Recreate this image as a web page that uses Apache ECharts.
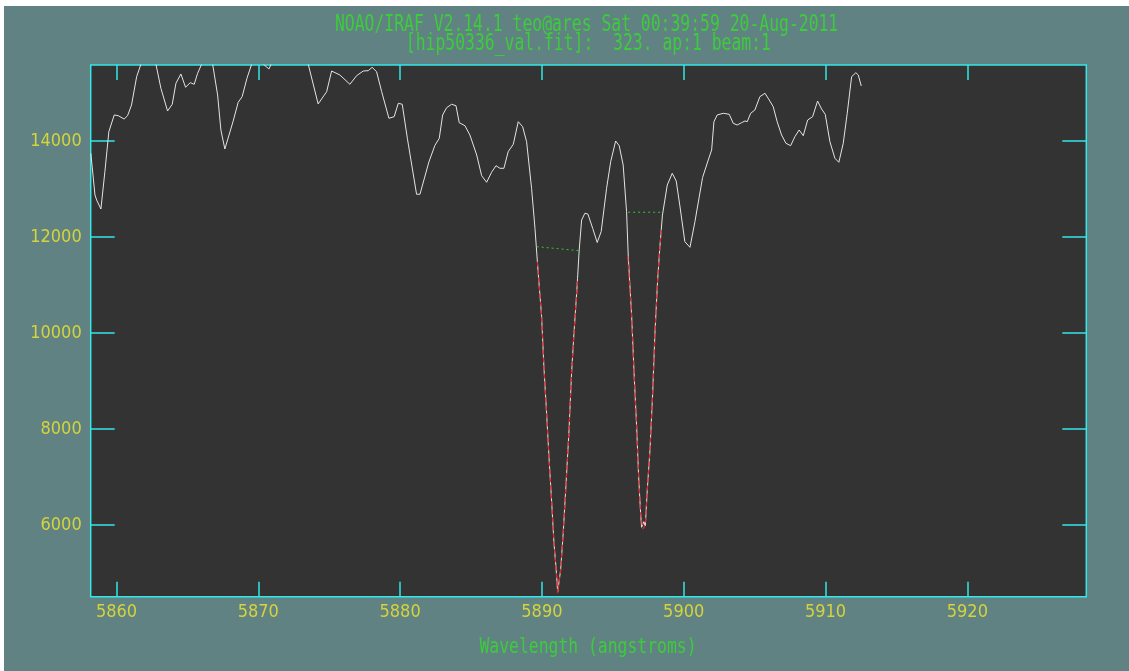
<!DOCTYPE html>
<html>
<head>
<meta charset="utf-8">
<script src="https://cdn.jsdelivr.net/npm/echarts@6/dist/echarts.min.js"></script>
<style>
  html, body { margin: 0; padding: 0; background: #ffffff; width: 1129px; height: 671px; overflow: hidden; }
  #chart { position: absolute; left: 4px; top: 6px; width: 1125px; height: 665px; }
</style>
</head>
<body>
<div id="chart"></div>
<script>
// ---------- data ----------
const titleLine1 = 'NOAO/IRAF V2.14.1 teo@ares Sat 00:39:59 20-Aug-2011';
const titleLine2 = '[hip50336_val.fit]:  323. ap:1 beam:1';
const xAxisName = 'Wavelength (angstroms)';

const xTicks = [5860, 5870, 5880, 5890, 5900, 5910, 5920];
const yTicks = [6000, 8000, 10000, 12000, 14000];

// spectrum (wavelength in angstroms, flux); values above the frame are clipped estimates
const wavelength = [
  5858.19, 5858.48, 5858.60, 5858.90, 5859.18, 5859.46, 5859.84, 5860.12, 5860.54, 5860.78,
  5861.06, 5861.42, 5861.72, 5862.21, 5862.78, 5863.13, 5863.60, 5863.93, 5864.19, 5864.54,
  5864.87, 5865.20, 5865.48, 5865.72, 5866.00, 5866.38, 5866.78, 5867.13, 5867.36, 5867.64,
  5868.23, 5868.58, 5868.86, 5869.20, 5869.53, 5869.90, 5870.35, 5870.75, 5870.89, 5871.50,
  5872.23, 5873.00, 5873.52, 5874.22, 5874.82, 5875.17, 5875.75, 5876.46, 5876.93, 5877.40,
  5877.75, 5878.03, 5878.34, 5878.70, 5879.21, 5879.58, 5879.87, 5880.15, 5880.51, 5881.16,
  5881.40, 5882.03, 5882.45, 5882.76, 5883.00, 5883.28, 5883.63, 5883.94, 5884.17, 5884.57,
  5884.92, 5885.40, 5885.75, 5886.10, 5886.45, 5886.76, 5887.04, 5887.32, 5887.62, 5887.98,
  5888.33, 5888.64, 5888.92, 5889.27, 5889.51, 5889.74, 5889.98, 5890.14, 5890.33, 5890.51,
  5890.68, 5890.85, 5890.99, 5891.11, 5891.32, 5891.50, 5891.69, 5891.90, 5892.09, 5892.26,
  5892.45, 5892.63, 5892.80, 5893.03, 5893.24, 5893.58, 5893.90, 5894.18, 5894.56, 5894.85,
  5895.20, 5895.45, 5895.73, 5895.97, 5896.09, 5896.33, 5896.51, 5896.68, 5896.82, 5896.96,
  5897.03, 5897.19, 5897.29, 5897.43, 5897.62, 5897.81, 5897.97, 5898.16, 5898.32, 5898.50,
  5898.84, 5899.19, 5899.47, 5899.73, 5900.08, 5900.44, 5900.79, 5901.33, 5901.73, 5901.97,
  5902.13, 5902.36, 5902.79, 5903.21, 5903.49, 5903.77, 5904.08, 5904.32, 5904.48, 5904.72,
  5905.02, 5905.37, 5905.73, 5906.03, 5906.31, 5906.59, 5906.90, 5907.21, 5907.54, 5907.84,
  5908.14, 5908.43, 5908.74, 5909.09, 5909.44, 5909.72, 5909.98, 5910.31, 5910.66, 5910.94,
  5911.25, 5911.53, 5911.84, 5912.14, 5912.31, 5912.52
];
const flux = [
  13744, 12875, 12771, 12583, 13360, 14194, 14542, 14527, 14458, 14527,
  14750, 15340, 15600, 15900, 15600, 15098, 14625, 14765, 15202, 15396,
  15119, 15215, 15181, 15410, 15600, 15800, 15600, 14958, 14229, 13833,
  14417, 14806, 14923, 15306, 15600, 15750, 15600, 15500, 15590, 15800,
  15900, 15800, 15600, 14771, 15027, 15458, 15375, 15181, 15360, 15458,
  15465, 15535, 15444, 15027, 14473, 14506, 14785, 14765, 14056, 12890,
  12890, 13563, 13906, 14056, 14542, 14694, 14765, 14735, 14381, 14319,
  14125, 13708, 13277, 13140, 13348, 13485, 13431, 13431, 13777, 13931,
  14402, 14298, 13985, 13015, 12181, 11244, 10340, 9298, 8327, 7354,
  6521, 5619, 5131, 4604, 5063, 5827, 6798, 7910, 9160, 9994,
  10827, 11729, 12354, 12494, 12479, 12181, 11885, 12115, 13015, 13569,
  14000, 13902, 13500, 12527, 11590, 10340, 9090, 8048, 7006, 6244,
  5952, 6069, 5979, 6729, 7563, 8744, 9994, 11104, 11798, 12458,
  13083, 13327, 13167, 12646, 11902, 11785, 12319, 13240, 13604, 13813,
  14402, 14542, 14577, 14556, 14369, 14333, 14381, 14417, 14402, 14577,
  14646, 14923, 14994, 14854, 14715, 14402, 14125, 13952, 13902, 14090,
  14229, 14110, 14437, 14506, 14833, 14667, 14556, 13985, 13640, 13556,
  13952, 14577, 15340, 15423, 15375, 15146
];

// fitted line profiles (red dashed)
const fit1Wl   = [5889.68, 5889.98, 5890.14, 5890.33, 5890.51, 5890.68, 5890.85, 5890.99, 5891.11, 5891.32, 5891.50, 5891.69, 5891.90, 5892.09, 5892.26, 5892.45, 5892.51];
const fit1Flux = [11485, 10340, 9300, 8330, 7350, 6520, 5620, 5130, 4577, 5060, 5830, 6800, 7910, 9160, 9990, 10830, 11146];
const fit2Wl   = [5896.05, 5896.33, 5896.51, 5896.68, 5896.82, 5896.96, 5897.13, 5897.29, 5897.43, 5897.62, 5897.81, 5897.97, 5898.16, 5898.32, 5898.43];
const fit2Flux = [11590, 10340, 9090, 8050, 7010, 6240, 5917, 6000, 6730, 7560, 8740, 9990, 11100, 11800, 12181];

// continuum levels (green dotted)
const cont1Wl = [5889.63, 5892.63];
const cont1Flux = [11798, 11715];
const cont2Wl = [5896.08, 5898.52];
const cont2Flux = [12515, 12515];

const xMin = 5858.18, xMax = 5928.39;
const yMin = 4506, yMax = 15583;

// ---------- styling ----------
const BG = '#618282';
const PLOT_BG = '#333333';
const CYAN = '#33e8e8';
const YELLOW = '#d4d43c';
const GREEN = '#3ccc3c';
const LABEL_FONT = "'DejaVu Sans Condensed', 'DejaVu Sans', sans-serif";
const MONO = "'DejaVu Sans Mono', monospace";

const pairs = (xs, ys) => xs.map((x, i) => [x, ys[i]]);
const plain = v => String(Math.round(v));

const chart = echarts.init(document.getElementById('chart'), null, { renderer: 'canvas' });

const tickStyle = { color: CYAN, width: 1.5 };

const monoText = (text, x, y, sy) => ({
  type: 'text', x: x, y: y, scaleY: sy, z: 10, silent: true,
  style: { text: text, x: 0, y: 0, align: 'center', verticalAlign: 'middle',
           textAlign: 'center', textVerticalAlign: 'middle',
           fill: GREEN, font: "16.4px 'DejaVu Sans Mono', monospace" }
});

chart.setOption({
  animation: false,
  backgroundColor: BG,
  grid: {
    left: 86.7, top: 59, width: 995.6, height: 531.7,
    show: true, backgroundColor: PLOT_BG, borderColor: CYAN, borderWidth: 1.5
  },
  graphic: [
    monoText(titleLine1, 582.6, 19.0, 1.35),
    monoText(titleLine2, 584.4, 38.0, 1.35),
    monoText(xAxisName, 584.0, 641.0, 1.32)
  ],
  xAxis: [
    {
      type: 'value', position: 'bottom', min: xMin, max: xMax,
      axisLine: { show: false },
      axisTick: { show: true, inside: true, length: 15, customValues: xTicks, lineStyle: tickStyle },
      axisLabel: { show: true, customValues: xTicks, formatter: plain, color: YELLOW, fontFamily: LABEL_FONT, fontSize: 18, margin: 7 },
      splitLine: { show: false }
    },
    {
      type: 'value', position: 'top', min: xMin, max: xMax,
      axisLine: { show: false },
      axisTick: { show: true, inside: true, length: 15, customValues: xTicks, lineStyle: tickStyle },
      axisLabel: { show: false },
      splitLine: { show: false }
    }
  ],
  yAxis: [
    {
      type: 'value', position: 'left', min: yMin, max: yMax,
      axisLine: { show: false },
      axisTick: { show: true, inside: true, length: 24, customValues: yTicks, lineStyle: tickStyle },
      axisLabel: { show: true, customValues: yTicks, formatter: plain, color: YELLOW, fontFamily: LABEL_FONT, fontSize: 18, margin: 9, padding: [0, 0, 6, 0] },
      splitLine: { show: false }
    },
    {
      type: 'value', position: 'right', min: yMin, max: yMax,
      axisLine: { show: false },
      axisTick: { show: true, inside: true, length: 24, customValues: yTicks, lineStyle: tickStyle },
      axisLabel: { show: false },
      splitLine: { show: false }
    }
  ],
  series: [
    {
      name: 'spectrum', type: 'line', data: pairs(wavelength, flux),
      showSymbol: false, symbol: 'none', clip: true, z: 2,
      lineStyle: { color: '#e4e4e4', width: 1 }
    },
    {
      name: 'fit1', type: 'line', data: pairs(fit1Wl, fit1Flux),
      showSymbol: false, symbol: 'none', clip: true, z: 3,
      lineStyle: { color: '#e8262a', width: 1.2, type: [5, 3] }
    },
    {
      name: 'fit2', type: 'line', data: pairs(fit2Wl, fit2Flux),
      showSymbol: false, symbol: 'none', clip: true, z: 3,
      lineStyle: { color: '#e8262a', width: 1.2, type: [5, 3] }
    },
    {
      name: 'continuum1', type: 'line', data: pairs(cont1Wl, cont1Flux),
      showSymbol: false, symbol: 'none', clip: true, z: 3,
      lineStyle: { color: '#2ecc2e', width: 1, type: [2, 3] }
    },
    {
      name: 'continuum2', type: 'line', data: pairs(cont2Wl, cont2Flux),
      showSymbol: false, symbol: 'none', clip: true, z: 3,
      lineStyle: { color: '#2ecc2e', width: 1, type: [2, 3] }
    }
  ]
});
</script>
</body>
</html>
